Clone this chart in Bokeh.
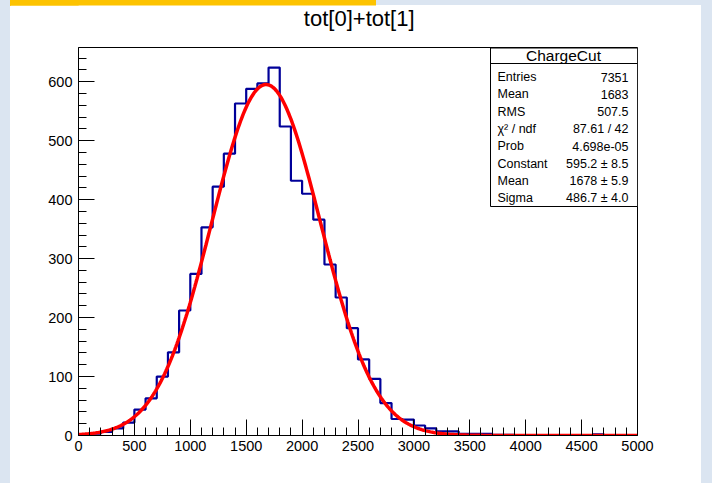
import math
from bokeh.plotting import figure
from bokeh.layouts import column
from bokeh.models import Range1d, FixedTicker, BoxAnnotation, Label
from bokeh.core.properties import value
from bokeh.embed import file_html
from bokeh.resources import INLINE

# ---------------- data ----------------
bin_low = list(range(0, 5000, 100))
bin_width = 100
counts = [1, 3, 6, 12, 22, 44, 63, 100, 141, 212,
          274, 353, 422, 478, 563, 588, 597, 624, 524, 432,
          410, 366, 290, 234, 182, 129, 96, 55, 28, 27,
          17, 12, 7, 7, 3, 3, 3, 1, 1, 0,
          0, 0, 0, 0, 0, 0, 2, 0, 0, 0]

fit_constant = 595.2
fit_mean = 1678.0
fit_sigma = 486.7

x_major = list(range(0, 5001, 500))
x_minor = [v for v in range(0, 5001, 100) if v % 500]
y_major = list(range(0, 601, 100))
y_minor = [v for v in range(0, 660, 20) if v % 100]

title_text = "tot[0]+tot[1]"
stats_title = "ChargeCut"
stats_labels = ["Entries", "Mean", "RMS", "\u03c7\u00b2 / ndf", "Prob",
                "Constant", "Mean", "Sigma"]
stats_values = ["7351", "1683", "507.5", "87.61 / 42", "4.698e-05",
                "595.2 \u00b1 8.5", "1678 \u00b1 5.9", "486.7 \u00b1 4.0"]

# ---------------- layout ----------------
OX, OY = 10, 5            # offset of the white canvas inside the page
W = 691
TH = 47 - OY              # title strip height
PH = 483 - OY - TH        # plot height
PY = OY + TH              # page y of plot canvas top
FL, FR, FB = 78 - OX, 701 - 637, 48
FONT = "Liberation Sans"
BG = "#dbe5f1"
YELLOW = "#fdc300"

# title strip
tf = figure(width=W, height=TH, x_range=Range1d(0, W), y_range=Range1d(0, TH),
            output_backend="svg", toolbar_location=None,
            x_axis_location=None, y_axis_location=None, min_border=0)
tf.outline_line_color = None
tf.grid.visible = False
tf.background_fill_color = "white"
tf.border_fill_color = "white"
tf.text(x=[357 - OX], y=[TH - (18 - OY)], text=[title_text],
        text_align="center", text_baseline="middle",
        text_font=value(FONT), text_font_size="22px", text_color="black")

# main plot
p = figure(width=W, height=PH, x_range=Range1d(0, 5000), y_range=Range1d(0, 658),
           output_backend="svg", toolbar_location=None,
           min_border_left=FL, min_border_right=FR,
           min_border_top=0, min_border_bottom=FB)
p.background_fill_color = "white"
p.border_fill_color = "white"
p.outline_line_color = "black"
p.outline_line_width = 1
p.grid.visible = False

for ax, maj, mnr in ((p.xaxis, x_major, x_minor), (p.yaxis, y_major, y_minor)):
    ax.ticker = FixedTicker(ticks=maj, minor_ticks=mnr)
    ax.major_tick_in = 16
    ax.major_tick_out = 0
    ax.minor_tick_in = 8
    ax.minor_tick_out = 0
    ax.axis_line_color = "black"
    ax.major_tick_line_color = "black"
    ax.minor_tick_line_color = "black"
    ax.major_label_text_font = FONT
    ax.major_label_text_font_size = "14.5px"
    ax.major_label_text_color = "black"
p.xaxis.major_label_standoff = 5
p.yaxis.major_label_standoff = 6

# histogram outline
xs = [bin_low[0]]
ys = [0]
for lo, c in zip(bin_low, counts):
    xs += [lo, lo + bin_width]
    ys += [c, c]
xs.append(bin_low[-1] + bin_width)
ys.append(0)
p.line(xs, ys, line_color="#000099", line_width=2.2)

# gaussian fit curve (from the fit parameters)
fx = [i * 10.0 for i in range(0, 501)]
fy = [fit_constant * math.exp(-0.5 * ((x - fit_mean) / fit_sigma) ** 2) for x in fx]
p.line(fx, fy, line_color="#ff0000", line_width=3.5)

# stats box (page pixel coordinates converted to plot canvas)
def cbox(l, r, t, b, color, line=None):
    p.add_layout(BoxAnnotation(left=l - OX, right=r - OX, top=t - PY, bottom=b - PY,
                               left_units="canvas", right_units="canvas",
                               top_units="canvas", bottom_units="canvas",
                               fill_color=color, fill_alpha=1.0,
                               line_color=line if line else color,
                               line_alpha=1.0 if line else 0.0, line_width=1))

cbox(490, 637, 47.5, 206, "white", line="black")
cbox(490, 637, 62.5, 63.5, "black")
p.add_layout(Label(x=563 - OX, y=55 - PY, x_units="canvas", y_units="canvas", text=stats_title,
                   text_align="center", text_baseline="middle",
                   text_font=FONT, text_font_size="15.5px", text_color="black"))
for i, (lab, val) in enumerate(zip(stats_labels, stats_values)):
    yy = 76.5 + i * 17.3 - PY
    p.add_layout(Label(x=497 - OX, y=yy, x_units="canvas", y_units="canvas", text=lab,
                       text_align="left", text_baseline="middle",
                       text_font=FONT, text_font_size="12.5px", text_color="black"))
    p.add_layout(Label(x=628 - OX, y=yy, x_units="canvas", y_units="canvas", text=val,
                       text_align="right", text_baseline="middle",
                       text_font=FONT, text_font_size="12.5px", text_color="black"))

layout = column(tf, p, spacing=0)

html = file_html(layout, INLINE, title=title_text)
page_css = (
    "<style>html,body{margin:0;padding:0;}"
    "body{padding:%dpx 0 0 %dpx;box-sizing:border-box;height:100vh;"
    "background:linear-gradient(%s,%s) %dpx 0/366px %dpx no-repeat,"
    "linear-gradient(#ffffff,#ffffff) %dpx %dpx/%dpx 100%% no-repeat,%s;}</style>"
    % (OY, OX, YELLOW, YELLOW, OX, OY + 1, OX, OY, W, BG)
)
html = html.replace("</head>", page_css + "</head>", 1)
open("out.html", "w").write(html)
